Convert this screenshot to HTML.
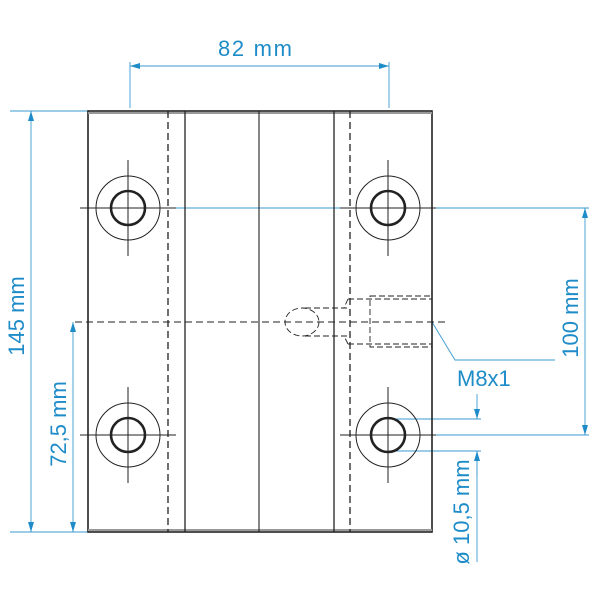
<!DOCTYPE html>
<html><head><meta charset="utf-8"><style>html,body{margin:0;padding:0;background:#fff}svg{display:block}</style></head><body>
<svg width="600" height="600" viewBox="0 0 600 600" xmlns="http://www.w3.org/2000/svg">
<defs>
<marker id="a" viewBox="0 0 10 6" refX="10" refY="3" markerWidth="10" markerHeight="6" orient="auto-start-reverse" markerUnits="userSpaceOnUse"><path d="M0,0 L10,3 L0,6 z" fill="#1e8cc8"/></marker>
</defs>
<g stroke="#3a9ad0" stroke-width="0.9" fill="none">
<line x1="130" y1="66" x2="389" y2="66" marker-start="url(#a)" marker-end="url(#a)"/>
<line x1="130" y1="62" x2="130" y2="108"/>
<line x1="389" y1="62" x2="389" y2="108"/>
<line x1="10" y1="111" x2="88" y2="111"/>
<line x1="10" y1="532" x2="88" y2="532"/>
<line x1="31" y1="111" x2="31" y2="532" marker-start="url(#a)" marker-end="url(#a)"/>
<line x1="73" y1="322" x2="73" y2="532" marker-start="url(#a)" marker-end="url(#a)"/>
<line x1="128" y1="208" x2="589" y2="208"/>
<line x1="388" y1="435" x2="589" y2="435"/>
<line x1="585" y1="208" x2="585" y2="435" marker-start="url(#a)" marker-end="url(#a)"/>
<line x1="388" y1="419" x2="481" y2="419"/>
<line x1="388" y1="451" x2="481" y2="451"/>
<line x1="477" y1="394" x2="477" y2="419" marker-end="url(#a)"/>
<line x1="477" y1="451" x2="477" y2="562"/>
<line x1="477" y1="476" x2="477" y2="451" marker-end="url(#a)"/>
<polyline points="432,322 455,360 555,360"/>
</g>
<g fill="#1e8cc8" font-family="Liberation Sans, sans-serif" font-size="22">
<text x="255" y="56" text-anchor="middle" textLength="74">82 mm</text>
<text x="457" y="386">M8x1</text>
<text transform="translate(24,316) rotate(-90)" text-anchor="middle">145 mm</text>
<text transform="translate(66,424) rotate(-90)" text-anchor="middle">72,5 mm</text>
<text transform="translate(578,318) rotate(-90)" text-anchor="middle">100 mm</text>
<text transform="translate(469,512) rotate(-90)" text-anchor="middle">ø 10,5 mm</text>
</g>
<g stroke="#222" fill="none">
<rect x="88" y="111" width="344" height="421" stroke-width="1.6"/>
<line x1="88" y1="113" x2="432" y2="113" stroke="#999" stroke-width="2"/>
<line x1="88" y1="530" x2="432" y2="530" stroke="#999" stroke-width="2"/>
<line x1="185" y1="111" x2="185" y2="532" stroke-width="1.3"/>
<line x1="259" y1="111" x2="259" y2="532" stroke-width="1.1"/>
<line x1="334" y1="111" x2="334" y2="532" stroke-width="1.3"/>
<line x1="168" y1="111" x2="168" y2="532" stroke-width="1.3" stroke-dasharray="7,4"/>
<line x1="350" y1="111" x2="350" y2="532" stroke-width="1.3" stroke-dasharray="7,4"/>
<line x1="75" y1="322" x2="445" y2="322" stroke-width="0.9" stroke-dasharray="7,4"/>
<g stroke-width="0.9" stroke-dasharray="6,3">
<line x1="348" y1="299" x2="432" y2="299"/>
<line x1="348" y1="344" x2="432" y2="344"/>
<rect x="370" y="296" width="62" height="51"/>
<line x1="305" y1="308" x2="348" y2="308"/>
<line x1="305" y1="336" x2="348" y2="336"/>
<line x1="348" y1="299" x2="344" y2="308"/>
<line x1="348" y1="344" x2="344" y2="336"/>
<ellipse cx="302" cy="322" rx="17" ry="14"/>
</g>
<g stroke-width="1">
<g transform="translate(128,208)"><circle r="32"/><circle r="17" stroke-width="2.6"/><line x1="-48" y1="0" x2="48" y2="0"/><line x1="0" y1="-48" x2="0" y2="48"/></g>
<g transform="translate(388,208)"><circle r="32"/><circle r="17" stroke-width="2.6"/><line x1="-48" y1="0" x2="48" y2="0"/><line x1="0" y1="-48" x2="0" y2="48"/></g>
<g transform="translate(128,435)"><circle r="32"/><circle r="17" stroke-width="2.6"/><line x1="-48" y1="0" x2="48" y2="0"/><line x1="0" y1="-48" x2="0" y2="48"/></g>
<g transform="translate(388,435)"><circle r="32"/><circle r="17" stroke-width="2.6"/><line x1="-48" y1="0" x2="48" y2="0"/><line x1="0" y1="-48" x2="0" y2="48"/></g>
</g>
</g>
</svg>
</body></html>
